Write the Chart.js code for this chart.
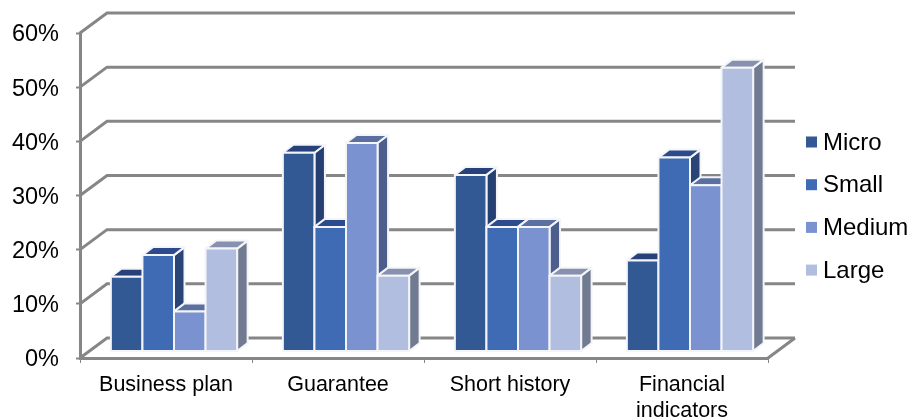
<!DOCTYPE html>
<html>
<head>
<meta charset="utf-8">
<title>Bars by firm size</title>
<script src="https://cdn.jsdelivr.net/npm/chart.js@4/dist/chart.umd.min.js"></script>
<style>
  html, body { margin: 0; padding: 0; background: #fff; }
  canvas { display: block; }
</style>
</head>
<body>
<canvas id="myChart" width="910" height="417"></canvas>
<script>
const categories = ["Business plan", "Guarantee", "Short history", ["Financial", "indicators"]];
const seriesNames = ["Micro", "Small", "Medium", "Large"];
const micro = [13.8, 36.7, 32.6, 16.8];
const small = [17.8, 23, 23, 35.8];
const medium = [7.4, 38.5, 23, 30.7];
const large = [19, 14, 14, 52.4];

const frontColors = ["#325993", "#3f6bb5", "#7a93d0", "#b1bedf"];
const topColors = ["#27417a", "#2c4a8c", "#5c6fa1", "#8790ae"];
const sideColors = ["#253f73", "#2a4478", "#4d5e8c", "#707a90"];

const axisGray = "#868686";
const FONT = "'Liberation Sans', Arial, sans-serif";

// depth of the floor/back wall, and of one bar
const wall = { dx: 27, dy: -20 };
const barShift = { dx: 8, dy: -6.5 };
const barDepth = { dx: 10.5, dy: -8 };

function face(c, points, fill) {
  c.beginPath();
  points.forEach((p, i) => (i ? c.lineTo(p[0], p[1]) : c.moveTo(p[0], p[1])));
  c.closePath();
  c.fillStyle = fill;
  c.fill();
  c.stroke();
}

const backWall = {
  id: "backWall",
  beforeDatasetsDraw(chart) {
    const c = chart.ctx;
    const { left, right } = chart.chartArea;
    const y = chart.scales.y;
    c.save();
    c.strokeStyle = axisGray;
    c.lineWidth = 3;
    y.ticks.forEach((t) => {
      const py = y.getPixelForValue(t.value);
      c.beginPath();
      c.moveTo(left, py);
      c.lineTo(left + wall.dx, py + wall.dy);
      c.lineTo(right + wall.dx, py + wall.dy);
      c.stroke();
    });
    // right edge of the floor
    const floor = y.getPixelForValue(0);
    c.beginPath();
    c.moveTo(right, floor);
    c.lineTo(right + wall.dx, floor + wall.dy);
    c.stroke();
    c.restore();
  },
};

// draws each bar as a box, left to right so nearer bars cover the sides of earlier ones
const boxes = {
  id: "boxes",
  beforeDatasetsDraw(chart) {
    const c = chart.ctx;
    c.save();
    c.strokeStyle = "#f4f5f8";
    c.lineWidth = 2;
    c.lineJoin = "round";
    categories.forEach((_, i) => {
      seriesNames.forEach((_, s) => {
        const bar = chart.getDatasetMeta(s).data[i];
        const x0 = bar.x - bar.width / 2 + barShift.dx;
        const x1 = x0 + bar.width;
        const yt = bar.y + barShift.dy;
        const yb = bar.base + barShift.dy;
        const d = barDepth;
        face(c, [[x1, yt], [x1 + d.dx, yt + d.dy], [x1 + d.dx, yb + d.dy], [x1, yb]], sideColors[s]);
        face(c, [[x0, yt], [x0 + d.dx, yt + d.dy], [x1 + d.dx, yt + d.dy], [x1, yt]], topColors[s]);
        face(c, [[x0, yt], [x1, yt], [x1, yb], [x0, yb]], frontColors[s]);
      });
    });
    c.restore();
    return false;
  },
};

const legendBlock = {
  id: "legendBlock",
  afterDraw(chart) {
    const c = chart.ctx;
    c.save();
    c.font = "24px " + FONT;
    c.textBaseline = "middle";
    chart.data.datasets.forEach((ds, i) => {
      const y = 142 + i * 42.7;
      c.fillStyle = ds.backgroundColor;
      c.fillRect(806, y - 5.5, 11, 11);
      c.fillStyle = "#000";
      c.fillText(ds.label, 823, y + 1);
    });
    c.restore();
  },
};

new Chart(document.getElementById("myChart"), {
  type: "bar",
  data: {
    labels: categories,
    datasets: [micro, small, medium, large].map((values, i) => ({
      label: seriesNames[i],
      data: values,
      backgroundColor: frontColors[i],
    })),
  },
  plugins: [backWall, boxes, legendBlock],
  options: {
    responsive: false,
    animation: false,
    layout: { padding: { top: 33, right: 142, bottom: 0, left: 0 } },
    datasets: { bar: { categoryPercentage: 0.734, barPercentage: 1 } },
    plugins: { legend: { display: false }, tooltip: { enabled: false } },
    scales: {
      x: {
        afterFit(scale) {
          scale.height = 59;
        },
        border: { color: axisGray, width: 3 },
        grid: { drawOnChartArea: false, color: axisGray, tickLength: 5, tickWidth: 1 },
        ticks: {
          color: "#000",
          maxRotation: 0,
          autoSkip: false,
          padding: 10,
          font: { family: FONT, size: 21.5, lineHeight: 1.17 },
        },
      },
      y: {
        min: 0,
        max: 60,
        afterFit(scale) {
          scale.width = 80;
        },
        border: { color: axisGray, width: 3 },
        grid: { drawOnChartArea: false, color: axisGray, tickLength: 4, tickWidth: 2 },
        ticks: {
          stepSize: 10,
          color: "#000",
          padding: 17,
          labelOffset: 2,
          font: { family: FONT, size: 23.5 },
          callback: (v) => v + "%",
        },
      },
    },
  },
});
</script>
</body>
</html>
